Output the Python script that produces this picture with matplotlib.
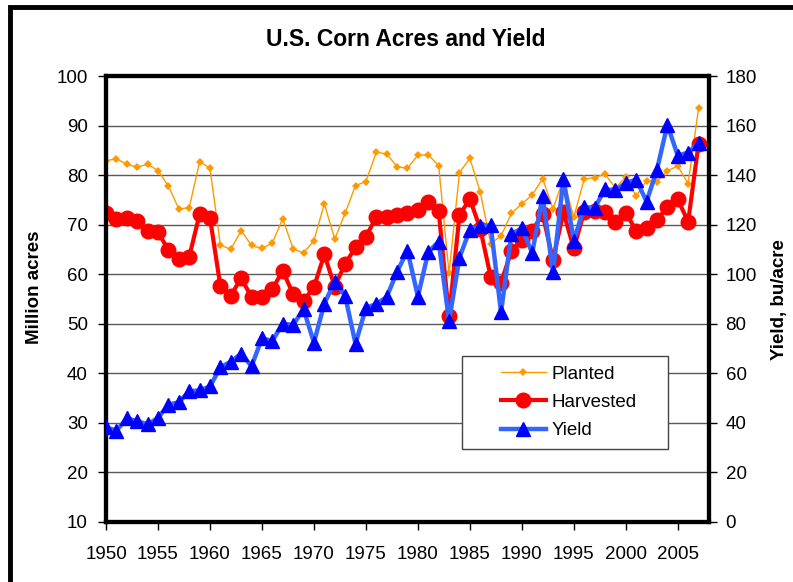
import matplotlib
matplotlib.use('Agg')
import matplotlib.pyplot as plt
from matplotlib.lines import Line2D
from matplotlib.patches import Rectangle

plt.rcParams['font.family'] = ['Liberation Sans', 'DejaVu Sans']

# USDA corn data, 1950-2007
years = list(range(1950, 2008))
planted = [82.9, 83.3, 82.2, 81.6, 82.2, 80.9, 77.8, 73.2, 73.4, 82.7,
           81.4, 65.9, 65.0, 68.8, 65.8, 65.2, 66.3, 71.2, 65.1, 64.3,
           66.8, 74.2, 67.1, 72.3, 77.9, 78.7, 84.6, 84.3, 81.7, 81.4,
           84.0, 84.1, 81.9, 60.2, 80.5, 83.4, 76.6, 66.2, 67.7, 72.3,
           74.2, 76.0, 79.3, 73.2, 79.2, 71.5, 79.2, 79.5, 80.2, 77.4,
           79.6, 75.7, 78.9, 78.6, 80.9, 81.8, 78.3, 93.5]
harvested = [72.4, 71.2, 71.4, 70.7, 68.7, 68.5, 64.9, 63.1, 63.5, 72.1,
             71.4, 57.6, 55.7, 59.2, 55.4, 55.4, 57.0, 60.7, 56.0, 54.6,
             57.4, 64.0, 57.5, 62.1, 65.4, 67.6, 71.5, 71.6, 71.9, 72.4,
             73.0, 74.5, 72.7, 51.5, 71.9, 75.2, 69.2, 59.5, 58.3, 64.7,
             66.9, 68.8, 72.1, 62.9, 72.5, 65.2, 72.6, 72.7, 72.6, 70.5,
             72.4, 68.8, 69.3, 70.9, 73.6, 75.1, 70.6, 86.3]
yield_bu = [38.2, 36.9, 41.8, 40.7, 39.4, 42.0, 47.4, 48.3, 52.8, 53.1,
            54.7, 62.4, 64.7, 67.9, 62.9, 74.1, 73.1, 80.1, 79.5, 85.9,
            72.4, 88.1, 97.0, 91.3, 71.9, 86.4, 88.0, 90.8, 101.0, 109.5,
            91.0, 108.9, 113.2, 81.1, 106.7, 118.0, 119.4, 119.8, 84.6, 116.3,
            118.5, 108.6, 131.5, 100.7, 138.6, 113.5, 127.1, 126.7, 134.4, 133.8,
            136.9, 138.2, 129.3, 142.2, 160.3, 147.9, 149.1, 153.0]

xticks = list(range(1950, 2010, 5))

fig = plt.figure(figsize=(7.93, 5.82), dpi=100)
ax1 = fig.add_axes([0.1337, 0.1031, 0.7603, 0.7663])
ax2 = ax1.twinx()

# outer chart frame (cropped at right and bottom)
fig.patches.append(Rectangle((9.5 / 793, -0.1), 2, 1.1 - 7 / 582,
                             transform=fig.transFigure, fill=False,
                             edgecolor='black', linewidth=3.5))

ax1.plot(years, planted, color='#FF9900', lw=1, marker='D', ms=4.5,
         markeredgewidth=0, zorder=3)
ax1.plot(years, harvested, color='#FF0000', lw=3, marker='o', ms=10.5,
         zorder=4)
ax2.plot(years, yield_bu, color='#3366FF', lw=3.2, marker='^', ms=9.5,
         markerfacecolor='#0000FF', markeredgecolor='#0000FF', zorder=5)

ax1.set_xlim(1950, 2008)
ax1.set_ylim(10, 100)
ax2.set_ylim(0, 180)
ax1.set_yticks(range(10, 101, 10))
ax2.set_yticks(range(0, 181, 20))
ax1.set_xticks(xticks)

ax1.yaxis.grid(True, color='#5a5a5a', lw=1)
ax1.set_axisbelow(True)

for ax in (ax1, ax2):
    for s in ax.spines.values():
        s.set_linewidth(3)
        s.set_color('black')
ax1.tick_params(axis='y', length=6, width=1, labelsize=13.5, pad=7)
ax1.tick_params(axis='x', length=6, width=1, labelsize=13.5, pad=11)
ax2.tick_params(axis='y', length=6, width=1, labelsize=13.5, pad=6)

ax1.set_ylabel('Million acres', fontsize=13.5, fontweight='bold')
ax1.yaxis.set_label_coords(-0.1045, 0.527)
ax2.set_ylabel('Yield, bu/acre', fontsize=13.5, fontweight='bold')
ax2.yaxis.set_label_coords(1.103, 0.498)

fig.text(406 / 793, 1 - 40 / 582, 'U.S. Corn Acres and Yield',
         fontsize=16.5, fontweight='bold', ha='center', va='center')

# legend box
ax2.add_patch(Rectangle((0.59, 0.164), 0.342, 0.208, transform=ax2.transAxes,
                        facecolor='white', edgecolor='#444444', lw=1,
                        zorder=8))
handles = [
    Line2D([], [], color='#FF9900', lw=1, marker='D', ms=4.5, markeredgewidth=0),
    Line2D([], [], color='#FF0000', lw=3, marker='o', ms=10.5),
    Line2D([], [], color='#3366FF', lw=3.2, marker='^', ms=9.5,
           markerfacecolor='#0000FF', markeredgecolor='#0000FF'),
]
leg = ax2.legend(handles, ['Planted', 'Harvested', 'Yield'],
                 loc='center', bbox_to_anchor=(0.767, 0.268),
                 frameon=False, fontsize=13.5, handlelength=2.4,
                 handletextpad=0.3, labelspacing=0.6, borderpad=0)
leg.set_zorder(9)

fig.savefig('out.png', dpi=100)
